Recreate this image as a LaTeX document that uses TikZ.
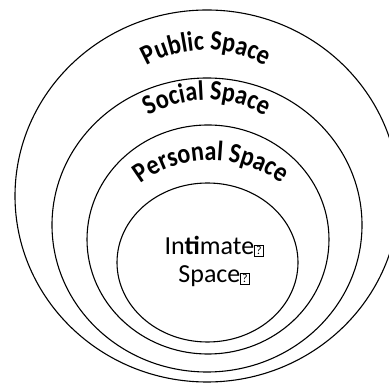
\documentclass[tikz,border=0pt]{standalone}
\usepackage{fontspec}
\setmainfont{Carlito}
\newfontfamily\archfont[FakeStretch=0.86]{Carlito}
\usetikzlibrary{shapes.geometric, decorations.text}

% small framed "?" for the glyphs the source font lacked
\newcommand{\qbox}{{\setlength{\fboxsep}{1.2pt}\setlength{\fboxrule}{0.6pt}\fbox{\fontsize{12}{12}\selectfont ?}}}

\begin{document}
\begin{tikzpicture}[
    x=1pt, y=1pt,
    % Node styles
    zone/.style={
        ellipse, draw=black, line width=1.1pt,
        inner sep=0pt
    },
    arclbl/.style={
        decorate,
        decoration={text along path, text align=center,
                    text={|\archfont\fontsize{28}{30}\selectfont\bfseries|#1}}
    },
    innerlbl/.style={font=\fontsize{26}{28}\selectfont, align=center},
]
\clip (0,0) rectangle (389,388);

%% ---- ZONES (outer to inner) ----
\node[zone, minimum width=384pt, minimum height=372pt] (public)   at (207,192)   {};
\node[zone, minimum width=310pt, minimum height=294pt] (social)   at (207,163)   {};
\node[zone, minimum width=242pt, minimum height=229pt] (personal) at (208,148.5) {};
\node[zone, minimum width=181pt, minimum height=159pt] (intimate) at (207.5,125.5) {};

%% ---- ARCHED LABELS ----
\path[arclbl={Public Space}]
    ([shift={(150:120)}]public.center) ++(-1,26) arc[start angle=150, end angle=30, radius=120];
\path[arclbl={Social Space}]
    ([shift={(150:115)}]social.center) ++(0,10) arc[start angle=150, end angle=30, radius=115];
\path[arclbl={Personal Space}]
    ([shift={(150:115)}]personal.center) ++(3,-35.5) arc[start angle=150, end angle=30, radius=115];

%% ---- CENTRE LABEL ----
\node[innerlbl, anchor=base] (intimatelbl) at (214,105)
    {In\textbf{ti}mate\qbox\\Space\qbox};

\end{tikzpicture}
\end{document}
